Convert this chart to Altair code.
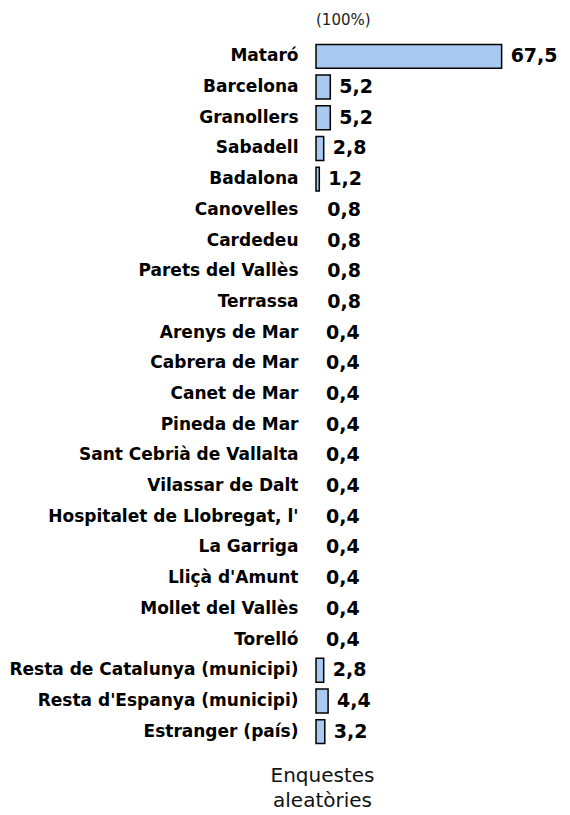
import altair as alt
import pandas as pd

categories = [
    "Mataró", "Barcelona", "Granollers", "Sabadell", "Badalona", "Canovelles",
    "Cardedeu", "Parets del Vallès", "Terrassa", "Arenys de Mar", "Cabrera de Mar",
    "Canet de Mar", "Pineda de Mar", "Sant Cebrià de Vallalta", "Vilassar de Dalt",
    "Hospitalet de Llobregat, l'", "La Garriga", "Lliçà d'Amunt", "Mollet del Vallès",
    "Torelló", "Resta de Catalunya (municipi)", "Resta d'Espanya (municipi)",
    "Estranger (país)",
]
values = [67.5, 5.2, 5.2, 2.8, 1.2, 0.8, 0.8, 0.8, 0.8, 0.4, 0.4, 0.4, 0.4, 0.4,
          0.4, 0.4, 0.4, 0.4, 0.4, 0.4, 2.8, 4.4, 3.2]
value_labels = [f"{v:.1f}".replace(".", ",") for v in values]

df = pd.DataFrame({"cat": categories, "v": values, "lab": value_labels})

y_enc = alt.Y("cat:N", sort=categories, scale=alt.Scale(paddingInner=0.22, paddingOuter=0.11),
              axis=alt.Axis(title=None, domain=False, ticks=False, labelFont="DejaVu Sans",
                            labelFontWeight="bold", labelFontSize=17, labelColor="#000",
                            labelPadding=18, labelLimit=400))
x_enc = alt.X("v:Q", scale=alt.Scale(domain=[0, 80], nice=False),
              axis=alt.Axis(title=["Enquestes", "aleatòries"], labels=False, ticks=False,
                            domain=False, grid=False, titleFont="DejaVu Sans",
                            titleFontWeight="normal", titleFontSize=20, titleColor="#111",
                            titleX=6, titleY=18, titleAlign="center", titleBaseline="top",
                            titleLineHeight=25))

bars = alt.Chart(df).transform_filter(alt.datum.v >= 1).mark_bar(
    color="#a8c9f0", stroke="#000", strokeWidth=1.5
).encode(x=x_enc, y=y_enc)

texts = alt.Chart(df).mark_text(
    align="left", baseline="middle", dx=9, font="DejaVu Sans", fontWeight="bold",
    fontSize=19, color="#000"
).encode(x="v:Q", y=alt.Y("cat:N", sort=categories), text="lab:N")

chart = alt.layer(bars, texts).properties(
    width=220, height=706, background="white",
    padding={"left": 0, "right": 0, "top": 5, "bottom": 5},
    title=alt.TitleParams("(100%)", anchor="start", frame="group", font="DejaVu Sans",
                          fontSize=15, fontWeight="normal", color="#222", offset=13),
).configure_view(strokeWidth=0)

chart.save("out.html", embed_options={"renderer": "svg", "actions": False})
